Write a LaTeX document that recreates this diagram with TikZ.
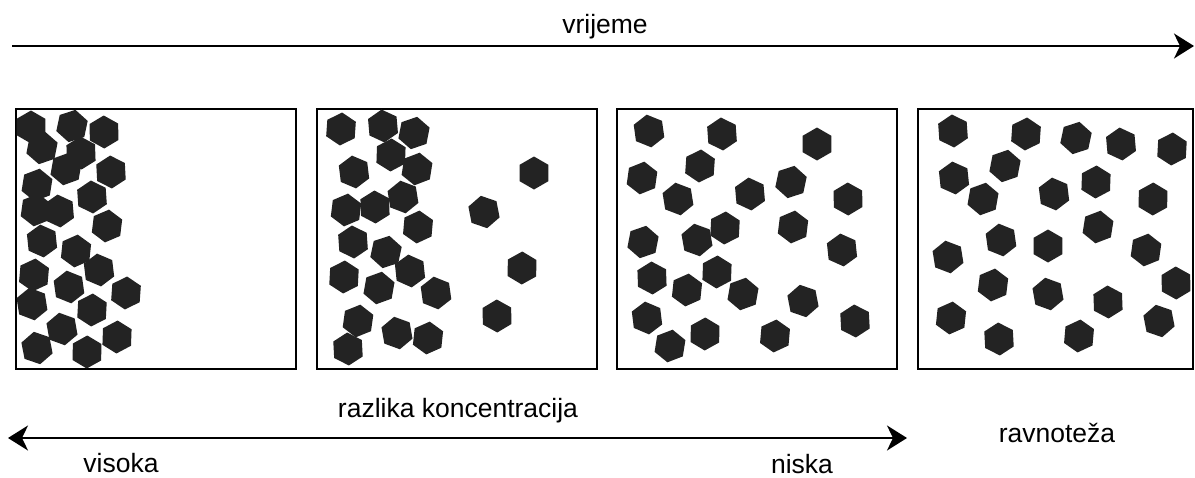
\documentclass[tikz,border=0pt]{standalone}
\usepackage{fontspec}
\setmainfont{Liberation Sans}
\usetikzlibrary{arrows.meta}
\definecolor{particle}{HTML}{232323}
\tikzset{
  x=1pt, y=-1pt,
  vessel/.style={draw=black, line width=2.4pt},
  axis/.style={draw=black, line width=2.2pt},
  caption/.style={font=\fontsize{26.5}{31}\selectfont, anchor=base, inner sep=0pt},
  particlefill/.style={fill=particle},
}
% filled hexagon of circumradius 16.5 centred at (#1,#2), turned by #3 degrees
\newcommand\hexagonat[3]{%
  \fill[particlefill] (#1,#2) ++(90+#3:16.5) -- ++(210+#3:16.5) -- ++(270+#3:16.5)
    -- ++(330+#3:16.5) -- ++(30+#3:16.5) -- ++(90+#3:16.5) -- cycle;}
\begin{document}
\begin{tikzpicture}
\useasboundingbox (0,0) rectangle (1195,477);

% time axis
\coordinate (timestart) at (12,46);
\coordinate (timeend) at (1194,46);
\draw[axis, -{Stealth[length=20pt, width=25pt, inset=6pt]}] (timestart) -- (timeend);
\node[caption] (time) at (605,33) {vrijeme};

% the four vessels
\draw[vessel] (16,109) rectangle (296,369);
\draw[vessel] (317,109) rectangle (597,369);
\draw[vessel] (617,109) rectangle (897,369);
\draw[vessel] (918,109) rectangle (1193,369);

% vessel 1: particles crowded at the left wall
\foreach \px/\py [count=\i] in {31/127,72/126,104/132,42/148,81/153,66/169,111/172,
  37/185,92/197,36/210,59/211,107/226,42/241,76/251,99/270,34/275,69/287,126/293,
  32/304,92/310,62/329,117/337,37/348,87/352}
  {\pgfmathtruncatemacro\rot{mod(\i*37,25)-12}\hexagonat{\px}{\py}{\rot}}

% vessel 2: a few particles spreading out
\foreach \px/\py [count=\i] in {341/129,383/126,414/133,391/155,354/172,417/169,534/173,
  403/197,346/210,375/207,484/212,418/227,353/242,386/252,344/277,410/271,379/288,
  522/268,436/293,358/321,497/316,397/333,428/338,348/349}
  {\pgfmathtruncatemacro\rot{mod(\i*41,25)-12}\hexagonat{\px}{\py}{\rot}}

% vessel 3: nearly uniform
\foreach \px/\py [count=\i] in {649/131,722/134,817/144,700/166,642/178,791/182,678/199,
  750/194,848/199,725/228,793/227,643/242,697/240,842/250,652/278,717/272,687/290,
  743/294,803/301,647/318,855/321,705/334,775/336,670/346}
  {\pgfmathtruncatemacro\rot{mod(\i*29,25)-12}\hexagonat{\px}{\py}{\rot}}

% vessel 4: equilibrium
\foreach \px/\py [count=\i] in {953/131,1026/134,1076/138,1121/144,1172/149,1005/166,
  954/178,1096/182,983/199,1054/194,1153/199,1098/227,1001/240,1048/246,1146/250,
  948/257,1176/283,993/285,1048/294,1108/302,951/318,1159/321,999/339,1079/336}
  {\pgfmathtruncatemacro\rot{mod(\i*33,25)-12}\hexagonat{\px}{\py}{\rot}}

% concentration difference axis
\coordinate (high) at (8,438);
\coordinate (low) at (907,438);
\draw[axis, {Stealth[length=20pt, width=25pt, inset=6pt]}-{Stealth[length=20pt, width=25pt, inset=6pt]}] (high) -- (low);
\node[caption] (diff) at (458,417) {razlika koncentracija};
\node[caption] (highlbl) at (121,472) {visoka};
\node[caption] (lowlbl) at (802,473) {niska};
\node[caption] (equil) at (1057,442) {ravnoteža};
\end{tikzpicture}
\end{document}
